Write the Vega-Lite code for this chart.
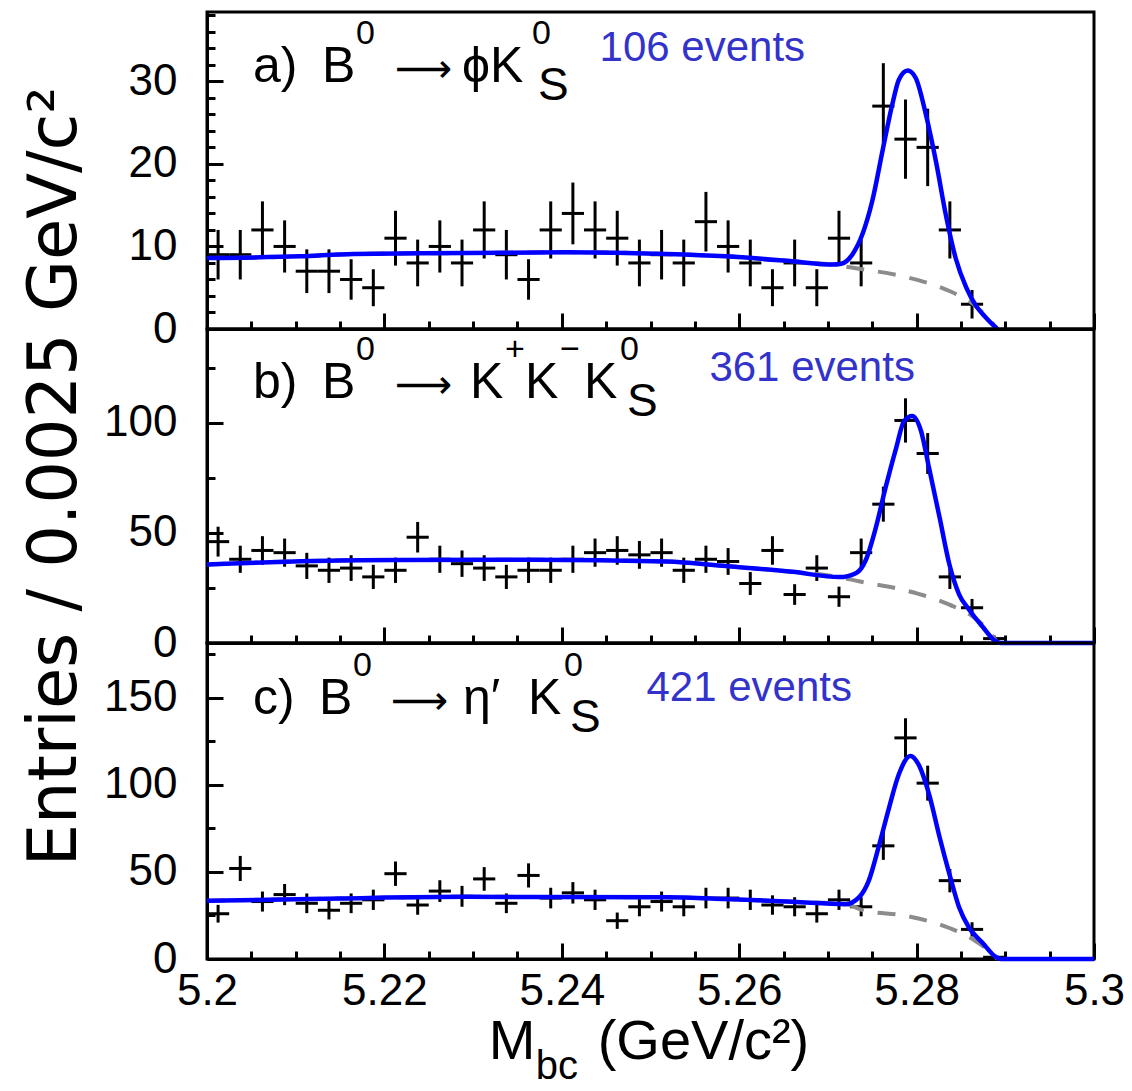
{
"$schema": "https://vega.github.io/schema/vega-lite/v6.json",
"padding": {"left": 19, "top": 10, "right": 5, "bottom": 0},
"spacing": 0,
"bounds": "flush",
"config": {
  "font": "Liberation Sans",
  "view": {"stroke": "black", "strokeWidth": 3},
  "axis": {"grid": false, "domainColor": "black", "domainWidth": 3, "tickColor": "black", "tickWidth": 3, "labelColor": "black", "labelFont": "Liberation Sans", "labelFontSize": 44, "titleFont": "Liberation Sans", "titleFontWeight": "normal", "titleColor": "black", "labelFlush": false, "labelOverlap": false, "labelBound": false, "tickCount": 100},
  "text": {"font": "Liberation Sans, DejaVu Sans", "color": "black", "align": "left", "baseline": "alphabetic"}
},
"datasets": {
"pts": [
{"p":"a","m0":5.2,"m1":5.2025,"m":5.20125,"n":9,"lo":6,"hi":12},
{"p":"a","m0":5.2025,"m1":5.205,"m":5.20375,"n":9,"lo":6,"hi":12},
{"p":"a","m0":5.205,"m1":5.2075,"m":5.20625,"n":12,"lo":8.54,"hi":15.46},
{"p":"a","m0":5.2075,"m1":5.21,"m":5.20875,"n":10,"lo":6.84,"hi":13.16},
{"p":"a","m0":5.21,"m1":5.2125,"m":5.21125,"n":7,"lo":4.35,"hi":9.65},
{"p":"a","m0":5.2125,"m1":5.215,"m":5.21375,"n":7,"lo":4.35,"hi":9.65},
{"p":"a","m0":5.215,"m1":5.2175,"m":5.21625,"n":6,"lo":3.55,"hi":8.45},
{"p":"a","m0":5.2175,"m1":5.22,"m":5.21875,"n":5,"lo":2.76,"hi":7.24},
{"p":"a","m0":5.22,"m1":5.2225,"m":5.22125,"n":11,"lo":7.68,"hi":14.32},
{"p":"a","m0":5.2225,"m1":5.225,"m":5.22375,"n":8,"lo":5.17,"hi":10.83},
{"p":"a","m0":5.225,"m1":5.2275,"m":5.22625,"n":10,"lo":6.84,"hi":13.16},
{"p":"a","m0":5.2275,"m1":5.23,"m":5.22875,"n":8,"lo":5.17,"hi":10.83},
{"p":"a","m0":5.23,"m1":5.2325,"m":5.23125,"n":12,"lo":8.54,"hi":15.46},
{"p":"a","m0":5.2325,"m1":5.235,"m":5.23375,"n":9,"lo":6,"hi":12},
{"p":"a","m0":5.235,"m1":5.2375,"m":5.23625,"n":6,"lo":3.55,"hi":8.45},
{"p":"a","m0":5.2375,"m1":5.24,"m":5.23875,"n":12,"lo":8.54,"hi":15.46},
{"p":"a","m0":5.24,"m1":5.2425,"m":5.24125,"n":14,"lo":10.26,"hi":17.74},
{"p":"a","m0":5.2425,"m1":5.245,"m":5.24375,"n":12,"lo":8.54,"hi":15.46},
{"p":"a","m0":5.245,"m1":5.2475,"m":5.24625,"n":11,"lo":7.68,"hi":14.32},
{"p":"a","m0":5.2475,"m1":5.25,"m":5.24875,"n":8,"lo":5.17,"hi":10.83},
{"p":"a","m0":5.25,"m1":5.2525,"m":5.25125,"n":9,"lo":6,"hi":12},
{"p":"a","m0":5.2525,"m1":5.255,"m":5.25375,"n":8,"lo":5.17,"hi":10.83},
{"p":"a","m0":5.255,"m1":5.2575,"m":5.25625,"n":13,"lo":9.39,"hi":16.61},
{"p":"a","m0":5.2575,"m1":5.26,"m":5.25875,"n":10,"lo":6.84,"hi":13.16},
{"p":"a","m0":5.26,"m1":5.2625,"m":5.26125,"n":8,"lo":5.17,"hi":10.83},
{"p":"a","m0":5.2625,"m1":5.265,"m":5.26375,"n":5,"lo":2.76,"hi":7.24},
{"p":"a","m0":5.265,"m1":5.2675,"m":5.26625,"n":8,"lo":5.17,"hi":10.83},
{"p":"a","m0":5.2675,"m1":5.27,"m":5.26875,"n":5,"lo":2.76,"hi":7.24},
{"p":"a","m0":5.27,"m1":5.2725,"m":5.27125,"n":11,"lo":7.68,"hi":14.32},
{"p":"a","m0":5.2725,"m1":5.275,"m":5.27375,"n":8,"lo":5.17,"hi":10.83},
{"p":"a","m0":5.275,"m1":5.2775,"m":5.27625,"n":27,"lo":21.8,"hi":32.2},
{"p":"a","m0":5.2775,"m1":5.28,"m":5.27875,"n":23,"lo":18.2,"hi":27.8},
{"p":"a","m0":5.28,"m1":5.2825,"m":5.28125,"n":22,"lo":17.31,"hi":26.69},
{"p":"a","m0":5.2825,"m1":5.285,"m":5.28375,"n":12,"lo":8.54,"hi":15.46},
{"p":"a","m0":5.285,"m1":5.2875,"m":5.28625,"n":3,"lo":1.27,"hi":4.73},
{"p":"b","m0":5.2,"m1":5.2025,"m":5.20125,"n":46,"lo":39.22,"hi":52.78},
{"p":"b","m0":5.2025,"m1":5.205,"m":5.20375,"n":38,"lo":31.84,"hi":44.16},
{"p":"b","m0":5.205,"m1":5.2075,"m":5.20625,"n":42,"lo":35.52,"hi":48.48},
{"p":"b","m0":5.2075,"m1":5.21,"m":5.20875,"n":41,"lo":34.6,"hi":47.4},
{"p":"b","m0":5.21,"m1":5.2125,"m":5.21125,"n":35,"lo":29.08,"hi":40.92},
{"p":"b","m0":5.2125,"m1":5.215,"m":5.21375,"n":33,"lo":27.26,"hi":38.74},
{"p":"b","m0":5.215,"m1":5.2175,"m":5.21625,"n":34,"lo":28.17,"hi":39.83},
{"p":"b","m0":5.2175,"m1":5.22,"m":5.21875,"n":30,"lo":24.52,"hi":35.48},
{"p":"b","m0":5.22,"m1":5.2225,"m":5.22125,"n":33,"lo":27.26,"hi":38.74},
{"p":"b","m0":5.2225,"m1":5.225,"m":5.22375,"n":48,"lo":41.07,"hi":54.93},
{"p":"b","m0":5.225,"m1":5.2275,"m":5.22625,"n":38,"lo":31.84,"hi":44.16},
{"p":"b","m0":5.2275,"m1":5.23,"m":5.22875,"n":36,"lo":30,"hi":42},
{"p":"b","m0":5.23,"m1":5.2325,"m":5.23125,"n":34,"lo":28.17,"hi":39.83},
{"p":"b","m0":5.2325,"m1":5.235,"m":5.23375,"n":30,"lo":24.52,"hi":35.48},
{"p":"b","m0":5.235,"m1":5.2375,"m":5.23625,"n":33,"lo":27.26,"hi":38.74},
{"p":"b","m0":5.2375,"m1":5.24,"m":5.23875,"n":33,"lo":27.26,"hi":38.74},
{"p":"b","m0":5.24,"m1":5.2425,"m":5.24125,"n":38,"lo":31.84,"hi":44.16},
{"p":"b","m0":5.2425,"m1":5.245,"m":5.24375,"n":41,"lo":34.6,"hi":47.4},
{"p":"b","m0":5.245,"m1":5.2475,"m":5.24625,"n":42,"lo":35.52,"hi":48.48},
{"p":"b","m0":5.2475,"m1":5.25,"m":5.24875,"n":40,"lo":33.68,"hi":46.32},
{"p":"b","m0":5.25,"m1":5.2525,"m":5.25125,"n":41,"lo":34.6,"hi":47.4},
{"p":"b","m0":5.2525,"m1":5.255,"m":5.25375,"n":33,"lo":27.26,"hi":38.74},
{"p":"b","m0":5.255,"m1":5.2575,"m":5.25625,"n":38,"lo":31.84,"hi":44.16},
{"p":"b","m0":5.2575,"m1":5.26,"m":5.25875,"n":37,"lo":30.92,"hi":43.08},
{"p":"b","m0":5.26,"m1":5.2625,"m":5.26125,"n":27,"lo":21.8,"hi":32.2},
{"p":"b","m0":5.2625,"m1":5.265,"m":5.26375,"n":42,"lo":35.52,"hi":48.48},
{"p":"b","m0":5.265,"m1":5.2675,"m":5.26625,"n":22,"lo":17.31,"hi":26.69},
{"p":"b","m0":5.2675,"m1":5.27,"m":5.26875,"n":34,"lo":28.17,"hi":39.83},
{"p":"b","m0":5.27,"m1":5.2725,"m":5.27125,"n":21,"lo":16.42,"hi":25.58},
{"p":"b","m0":5.2725,"m1":5.275,"m":5.27375,"n":41,"lo":34.6,"hi":47.4},
{"p":"b","m0":5.275,"m1":5.2775,"m":5.27625,"n":63,"lo":55.06,"hi":70.94},
{"p":"b","m0":5.2775,"m1":5.28,"m":5.27875,"n":101,"lo":90.95,"hi":111.05},
{"p":"b","m0":5.28,"m1":5.2825,"m":5.28125,"n":86,"lo":76.73,"hi":95.27},
{"p":"b","m0":5.2825,"m1":5.285,"m":5.28375,"n":30,"lo":24.52,"hi":35.48},
{"p":"b","m0":5.285,"m1":5.2875,"m":5.28625,"n":16,"lo":12,"hi":20},
{"p":"b","m0":5.2875,"m1":5.29,"m":5.28875,"n":2,"lo":0.59,"hi":3.41},
{"p":"c","m0":5.2,"m1":5.2025,"m":5.20125,"n":26,"lo":20.9,"hi":31.1},
{"p":"c","m0":5.2025,"m1":5.205,"m":5.20375,"n":52,"lo":44.79,"hi":59.21},
{"p":"c","m0":5.205,"m1":5.2075,"m":5.20625,"n":33,"lo":27.26,"hi":38.74},
{"p":"c","m0":5.2075,"m1":5.21,"m":5.20875,"n":37,"lo":30.92,"hi":43.08},
{"p":"c","m0":5.21,"m1":5.2125,"m":5.21125,"n":32,"lo":26.34,"hi":37.66},
{"p":"c","m0":5.2125,"m1":5.215,"m":5.21375,"n":28,"lo":22.71,"hi":33.29},
{"p":"c","m0":5.215,"m1":5.2175,"m":5.21625,"n":32,"lo":26.34,"hi":37.66},
{"p":"c","m0":5.2175,"m1":5.22,"m":5.21875,"n":34,"lo":28.17,"hi":39.83},
{"p":"c","m0":5.22,"m1":5.2225,"m":5.22125,"n":49,"lo":42,"hi":56},
{"p":"c","m0":5.2225,"m1":5.225,"m":5.22375,"n":31,"lo":25.43,"hi":36.57},
{"p":"c","m0":5.225,"m1":5.2275,"m":5.22625,"n":39,"lo":32.76,"hi":45.24},
{"p":"c","m0":5.2275,"m1":5.23,"m":5.22875,"n":36,"lo":30,"hi":42},
{"p":"c","m0":5.23,"m1":5.2325,"m":5.23125,"n":46,"lo":39.22,"hi":52.78},
{"p":"c","m0":5.2325,"m1":5.235,"m":5.23375,"n":32,"lo":26.34,"hi":37.66},
{"p":"c","m0":5.235,"m1":5.2375,"m":5.23625,"n":48,"lo":41.07,"hi":54.93},
{"p":"c","m0":5.2375,"m1":5.24,"m":5.23875,"n":35,"lo":29.08,"hi":40.92},
{"p":"c","m0":5.24,"m1":5.2425,"m":5.24125,"n":38,"lo":31.84,"hi":44.16},
{"p":"c","m0":5.2425,"m1":5.245,"m":5.24375,"n":34,"lo":28.17,"hi":39.83},
{"p":"c","m0":5.245,"m1":5.2475,"m":5.24625,"n":22,"lo":17.31,"hi":26.69},
{"p":"c","m0":5.2475,"m1":5.25,"m":5.24875,"n":30,"lo":24.52,"hi":35.48},
{"p":"c","m0":5.25,"m1":5.2525,"m":5.25125,"n":33,"lo":27.26,"hi":38.74},
{"p":"c","m0":5.2525,"m1":5.255,"m":5.25375,"n":30,"lo":24.52,"hi":35.48},
{"p":"c","m0":5.255,"m1":5.2575,"m":5.25625,"n":35,"lo":29.08,"hi":40.92},
{"p":"c","m0":5.2575,"m1":5.26,"m":5.25875,"n":35,"lo":29.08,"hi":40.92},
{"p":"c","m0":5.26,"m1":5.2625,"m":5.26125,"n":34,"lo":28.17,"hi":39.83},
{"p":"c","m0":5.2625,"m1":5.265,"m":5.26375,"n":31,"lo":25.43,"hi":36.57},
{"p":"c","m0":5.265,"m1":5.2675,"m":5.26625,"n":30,"lo":24.52,"hi":35.48},
{"p":"c","m0":5.2675,"m1":5.27,"m":5.26875,"n":26,"lo":20.9,"hi":31.1},
{"p":"c","m0":5.27,"m1":5.2725,"m":5.27125,"n":34,"lo":28.17,"hi":39.83},
{"p":"c","m0":5.2725,"m1":5.275,"m":5.27375,"n":30,"lo":24.52,"hi":35.48},
{"p":"c","m0":5.275,"m1":5.2775,"m":5.27625,"n":65,"lo":56.94,"hi":73.06},
{"p":"c","m0":5.2775,"m1":5.28,"m":5.27875,"n":127,"lo":115.73,"hi":138.27},
{"p":"c","m0":5.28,"m1":5.2825,"m":5.28125,"n":101,"lo":90.95,"hi":111.05},
{"p":"c","m0":5.2825,"m1":5.285,"m":5.28375,"n":45,"lo":38.29,"hi":51.71},
{"p":"c","m0":5.285,"m1":5.2875,"m":5.28625,"n":17,"lo":12.88,"hi":21.12},
{"p":"c","m0":5.2875,"m1":5.29,"m":5.28875,"n":1,"lo":0,"hi":2}
],
"fit": [
{"p":"a","m":5.2,"v":8.6},{"p":"a","m":5.2105,"v":8.8},{"p":"a","m":5.2165,"v":9.1},{"p":"a","m":5.2292,"v":9.2},{"p":"a","m":5.2405,"v":9.3},{"p":"a","m":5.2518,"v":9.1},{"p":"a","m":5.2585,"v":8.8},{"p":"a","m":5.266,"v":8.2},{"p":"a","m":5.2705,"v":7.8},{"p":"a","m":5.2715,"v":7.9},{"p":"a","m":5.2728,"v":9.1},{"p":"a","m":5.2739,"v":11.5},{"p":"a","m":5.275,"v":15.5},{"p":"a","m":5.2762,"v":21.8},{"p":"a","m":5.2773,"v":27.4},{"p":"a","m":5.278,"v":30.2},{"p":"a","m":5.279,"v":31.3},{"p":"a","m":5.2799,"v":30.4},{"p":"a","m":5.281,"v":26.2},{"p":"a","m":5.2822,"v":20.2},{"p":"a","m":5.2833,"v":13.8},{"p":"a","m":5.2844,"v":8.6},{"p":"a","m":5.2856,"v":5.0},{"p":"a","m":5.2867,"v":2.8},{"p":"a","m":5.2878,"v":1.4},{"p":"a","m":5.2891,"v":0},
{"p":"b","m":5.2,"v":35.6},{"p":"b","m":5.2173,"v":37.6},{"p":"b","m":5.2367,"v":37.8},{"p":"b","m":5.2518,"v":37.0},{"p":"b","m":5.2585,"v":34.9},{"p":"b","m":5.266,"v":32.3},{"p":"b","m":5.2713,"v":29.9},{"p":"b","m":5.2732,"v":31.8},{"p":"b","m":5.2743,"v":37.9},{"p":"b","m":5.2754,"v":52.3},{"p":"b","m":5.2765,"v":70.5},{"p":"b","m":5.2777,"v":88.6},{"p":"b","m":5.2786,"v":100.8},{"p":"b","m":5.2795,"v":103},{"p":"b","m":5.2805,"v":96.2},{"p":"b","m":5.2814,"v":79.5},{"p":"b","m":5.2826,"v":56.8},{"p":"b","m":5.2837,"v":35.6},{"p":"b","m":5.2848,"v":22},{"p":"b","m":5.2859,"v":15.2},{"p":"b","m":5.2874,"v":7.6},{"p":"b","m":5.2889,"v":0.8},{"p":"b","m":5.2895,"v":0},{"p":"b","m":5.3,"v":0},
{"p":"c","m":5.2,"v":33.4},{"p":"c","m":5.215,"v":34.8},{"p":"c","m":5.2292,"v":35.7},{"p":"c","m":5.2518,"v":35.4},{"p":"c","m":5.2585,"v":34.4},{"p":"c","m":5.266,"v":32.9},{"p":"c","m":5.272,"v":31.5},{"p":"c","m":5.2735,"v":35.4},{"p":"c","m":5.2746,"v":44.9},{"p":"c","m":5.2757,"v":64},{"p":"c","m":5.2769,"v":87},{"p":"c","m":5.278,"v":106.1},{"p":"c","m":5.2793,"v":116.6},{"p":"c","m":5.2802,"v":111.9},{"p":"c","m":5.2814,"v":94.7},{"p":"c","m":5.2826,"v":69.8},{"p":"c","m":5.2837,"v":48.8},{"p":"c","m":5.2848,"v":29.6},{"p":"c","m":5.2859,"v":18.1},{"p":"c","m":5.2874,"v":9.5},{"p":"c","m":5.2889,"v":1.3},{"p":"c","m":5.2895,"v":0},{"p":"c","m":5.3,"v":0}
],
"bkg": [
{"p":"a","m":5.2,"v":8.6},{"p":"a","m":5.2105,"v":8.8},{"p":"a","m":5.2165,"v":9.1},{"p":"a","m":5.2292,"v":9.2},{"p":"a","m":5.2405,"v":9.3},{"p":"a","m":5.2518,"v":9.1},{"p":"a","m":5.2585,"v":8.8},{"p":"a","m":5.266,"v":8.2},{"p":"a","m":5.2705,"v":7.8},{"p":"a","m":5.2735,"v":7.3},{"p":"a","m":5.2788,"v":6.3},{"p":"a","m":5.2837,"v":4.6},{"p":"a","m":5.2863,"v":3.1},{"p":"a","m":5.2878,"v":1.6},{"p":"a","m":5.2891,"v":0},
{"p":"b","m":5.2,"v":35.6},{"p":"b","m":5.2173,"v":37.6},{"p":"b","m":5.2367,"v":37.8},{"p":"b","m":5.2518,"v":37.0},{"p":"b","m":5.2585,"v":34.9},{"p":"b","m":5.266,"v":32.3},{"p":"b","m":5.2713,"v":29.9},{"p":"b","m":5.2735,"v":28},{"p":"b","m":5.2788,"v":23.8},{"p":"b","m":5.2837,"v":17.4},{"p":"b","m":5.2863,"v":12.1},{"p":"b","m":5.288,"v":6},{"p":"b","m":5.2891,"v":0},
{"p":"c","m":5.2,"v":33.4},{"p":"c","m":5.215,"v":34.8},{"p":"c","m":5.2292,"v":35.7},{"p":"c","m":5.2518,"v":35.4},{"p":"c","m":5.2585,"v":34.4},{"p":"c","m":5.266,"v":32.9},{"p":"c","m":5.272,"v":31.5},{"p":"c","m":5.2739,"v":28.1},{"p":"c","m":5.2788,"v":24.8},{"p":"c","m":5.2837,"v":17.8},{"p":"c","m":5.2863,"v":11.5},{"p":"c","m":5.2885,"v":3},{"p":"c","m":5.2891,"v":0}
]
},
"vconcat": [
{
"width": 887, "height": 317,
"layer": [
{"data": {"name": "pts"}, "transform": [{"filter": {"field": "p", "equal": "a"}}],
 "mark": {"type": "rule", "color": "black", "strokeWidth": 3},
 "encoding": {
  "x": {"field": "m", "type": "quantitative", "scale": {"domain": [5.2, 5.3], "nice": false, "zero": false},
        "axis": {"title": null, "labels": false, "values": [5.2,5.205,5.21,5.215,5.22,5.225,5.23,5.235,5.24,5.245,5.25,5.255,5.26,5.265,5.27,5.275,5.28,5.285,5.29,5.295,5.3],
                 "tickSize": {"condition": {"test": "abs(datum.value*50-round(datum.value*50))<0.01", "value": -16}, "value": -8}}},
  "y": {"field": "lo", "type": "quantitative", "scale": {"domain": [0, 38.4], "nice": false},
        "axis": {"title": null, "format": "d", "values": [0,2,4,6,8,10,12,14,16,18,20,22,24,26,28,30,32,34,36,38],
                 "labelExpr": "datum.value % 10 === 0 ? datum.label : ''", "labelPadding": 46,
                 "labelFontSize": {"condition": {"test": "datum.value % 10 === 0", "value": 44}, "value": 1},
                 "tickSize": {"condition": {"test": "datum.value % 10 === 0", "value": -16}, "value": -8}}},
  "y2": {"field": "hi"}
 }},
{"data": {"name": "pts"}, "transform": [{"filter": {"field": "p", "equal": "a"}}],
 "mark": {"type": "rule", "color": "black", "strokeWidth": 3},
 "encoding": {"x": {"field": "m0", "type": "quantitative"}, "x2": {"field": "m1"}, "y": {"field": "n", "type": "quantitative"}}},
{"data": {"name": "bkg"}, "transform": [{"filter": {"field": "p", "equal": "a"}}],
 "mark": {"type": "line", "color": "#8c8c8c", "strokeWidth": 4, "strokeDash": [18, 14], "interpolate": "monotone"},
 "encoding": {"x": {"field": "m", "type": "quantitative"}, "y": {"field": "v", "type": "quantitative"}}},
{"data": {"name": "fit"}, "transform": [{"filter": {"field": "p", "equal": "a"}}],
 "mark": {"type": "line", "color": "#0000ff", "strokeWidth": 4.5, "interpolate": "monotone"},
 "encoding": {"x": {"field": "m", "type": "quantitative"}, "y": {"field": "v", "type": "quantitative"}}},
{"data": {"values": [{}]}, "mark": {"type": "text", "text": "a)", "fontSize": 50}, "encoding": {"x": {"datum": 5.20518, "type": "quantitative"}, "y": {"datum": 29.9, "type": "quantitative"}}},
{"data": {"values": [{}]}, "mark": {"type": "text", "text": "B", "fontSize": 50, "dx": 69}, "encoding": {"x": {"datum": 5.20518, "type": "quantitative"}, "y": {"datum": 29.9, "type": "quantitative"}}},
{"data": {"values": [{}]}, "mark": {"type": "text", "text": "0", "fontSize": 34, "dx": 103, "dy": -38}, "encoding": {"x": {"datum": 5.20518, "type": "quantitative"}, "y": {"datum": 29.9, "type": "quantitative"}}},
{"data": {"values": [{}]}, "mark": {"type": "text", "text": "⟶", "font": "DejaVu Sans", "fontSize": 40, "dx": 142}, "encoding": {"x": {"datum": 5.20518, "type": "quantitative"}, "y": {"datum": 29.9, "type": "quantitative"}}},
{"data": {"values": [{}]}, "mark": {"type": "text", "text": "ϕK", "fontSize": 50, "dx": 209}, "encoding": {"x": {"datum": 5.20518, "type": "quantitative"}, "y": {"datum": 29.9, "type": "quantitative"}}},
{"data": {"values": [{}]}, "mark": {"type": "text", "text": "0", "fontSize": 34, "dx": 279, "dy": -38}, "encoding": {"x": {"datum": 5.20518, "type": "quantitative"}, "y": {"datum": 29.9, "type": "quantitative"}}},
{"data": {"values": [{}]}, "mark": {"type": "text", "text": "S", "fontSize": 46, "dx": 285, "dy": 18}, "encoding": {"x": {"datum": 5.20518, "type": "quantitative"}, "y": {"datum": 29.9, "type": "quantitative"}}},
{"data": {"values": [{}]}, "mark": {"type": "text", "text": "106 events", "fontSize": 42, "color": "#3333cc"}, "encoding": {"x": {"datum": 5.24426, "type": "quantitative"}, "y": {"datum": 32.5, "type": "quantitative"}}}
]
},
{
"width": 887, "height": 314,
"layer": [
{"data": {"name": "pts"}, "transform": [{"filter": {"field": "p", "equal": "b"}}],
 "mark": {"type": "rule", "color": "black", "strokeWidth": 3},
 "encoding": {
  "x": {"field": "m", "type": "quantitative", "scale": {"domain": [5.2, 5.3], "nice": false, "zero": false},
        "axis": {"title": null, "labels": false, "values": [5.2,5.205,5.21,5.215,5.22,5.225,5.23,5.235,5.24,5.245,5.25,5.255,5.26,5.265,5.27,5.275,5.28,5.285,5.29,5.295,5.3],
                 "tickSize": {"condition": {"test": "abs(datum.value*50-round(datum.value*50))<0.01", "value": -16}, "value": -8}}},
  "y": {"field": "lo", "type": "quantitative", "scale": {"domain": [0, 142.5], "nice": false},
        "axis": {"title": "Entries / 0.0025 GeV/c²", "titleFont": "DejaVu Sans", "titleFontSize": 67, "titleX": -132, "titleY": 147, "titleBaseline": "alphabetic", "titleLimit": 2000,
                 "format": "d", "values": [0,25,50,75,100,125],
                 "labelExpr": "datum.value % 50 === 0 ? datum.label : ''", "labelPadding": 46,
                 "labelFontSize": {"condition": {"test": "datum.value % 50 === 0", "value": 44}, "value": 1},
                 "tickSize": {"condition": {"test": "datum.value % 50 === 0", "value": -16}, "value": -8}}},
  "y2": {"field": "hi"}
 }},
{"data": {"name": "pts"}, "transform": [{"filter": {"field": "p", "equal": "b"}}],
 "mark": {"type": "rule", "color": "black", "strokeWidth": 3},
 "encoding": {"x": {"field": "m0", "type": "quantitative"}, "x2": {"field": "m1"}, "y": {"field": "n", "type": "quantitative"}}},
{"data": {"name": "bkg"}, "transform": [{"filter": {"field": "p", "equal": "b"}}],
 "mark": {"type": "line", "color": "#8c8c8c", "strokeWidth": 4, "strokeDash": [18, 14], "interpolate": "monotone"},
 "encoding": {"x": {"field": "m", "type": "quantitative"}, "y": {"field": "v", "type": "quantitative"}}},
{"data": {"name": "fit"}, "transform": [{"filter": {"field": "p", "equal": "b"}}],
 "mark": {"type": "line", "color": "#0000ff", "strokeWidth": 4.5, "interpolate": "monotone"},
 "encoding": {"x": {"field": "m", "type": "quantitative"}, "y": {"field": "v", "type": "quantitative"}}},
{"data": {"values": [{}]}, "mark": {"type": "text", "text": "b)", "fontSize": 50}, "encoding": {"x": {"datum": 5.20518, "type": "quantitative"}, "y": {"datum": 111.2, "type": "quantitative"}}},
{"data": {"values": [{}]}, "mark": {"type": "text", "text": "B", "fontSize": 50, "dx": 69}, "encoding": {"x": {"datum": 5.20518, "type": "quantitative"}, "y": {"datum": 111.2, "type": "quantitative"}}},
{"data": {"values": [{}]}, "mark": {"type": "text", "text": "0", "fontSize": 34, "dx": 103, "dy": -38}, "encoding": {"x": {"datum": 5.20518, "type": "quantitative"}, "y": {"datum": 111.2, "type": "quantitative"}}},
{"data": {"values": [{}]}, "mark": {"type": "text", "text": "⟶", "font": "DejaVu Sans", "fontSize": 40, "dx": 142}, "encoding": {"x": {"datum": 5.20518, "type": "quantitative"}, "y": {"datum": 111.2, "type": "quantitative"}}},
{"data": {"values": [{}]}, "mark": {"type": "text", "text": "K", "fontSize": 50, "dx": 217}, "encoding": {"x": {"datum": 5.20518, "type": "quantitative"}, "y": {"datum": 111.2, "type": "quantitative"}}},
{"data": {"values": [{}]}, "mark": {"type": "text", "text": "+", "fontSize": 34, "dx": 252, "dy": -38}, "encoding": {"x": {"datum": 5.20518, "type": "quantitative"}, "y": {"datum": 111.2, "type": "quantitative"}}},
{"data": {"values": [{}]}, "mark": {"type": "text", "text": "K", "fontSize": 50, "dx": 272}, "encoding": {"x": {"datum": 5.20518, "type": "quantitative"}, "y": {"datum": 111.2, "type": "quantitative"}}},
{"data": {"values": [{}]}, "mark": {"type": "text", "text": "−", "fontSize": 34, "dx": 307, "dy": -38}, "encoding": {"x": {"datum": 5.20518, "type": "quantitative"}, "y": {"datum": 111.2, "type": "quantitative"}}},
{"data": {"values": [{}]}, "mark": {"type": "text", "text": "K", "fontSize": 50, "dx": 331}, "encoding": {"x": {"datum": 5.20518, "type": "quantitative"}, "y": {"datum": 111.2, "type": "quantitative"}}},
{"data": {"values": [{}]}, "mark": {"type": "text", "text": "0", "fontSize": 34, "dx": 367, "dy": -38}, "encoding": {"x": {"datum": 5.20518, "type": "quantitative"}, "y": {"datum": 111.2, "type": "quantitative"}}},
{"data": {"values": [{}]}, "mark": {"type": "text", "text": "S", "fontSize": 46, "dx": 374, "dy": 18}, "encoding": {"x": {"datum": 5.20518, "type": "quantitative"}, "y": {"datum": 111.2, "type": "quantitative"}}},
{"data": {"values": [{}]}, "mark": {"type": "text", "text": "361 events", "fontSize": 42, "color": "#3333cc"}, "encoding": {"x": {"datum": 5.25664, "type": "quantitative"}, "y": {"datum": 118.9, "type": "quantitative"}}}
]
},
{
"width": 887, "height": 316,
"layer": [
{"data": {"name": "pts"}, "transform": [{"filter": {"field": "p", "equal": "c"}}],
 "mark": {"type": "rule", "color": "black", "strokeWidth": 3},
 "encoding": {
  "x": {"field": "m", "type": "quantitative", "scale": {"domain": [5.2, 5.3], "nice": false, "zero": false},
        "axis": {"title": null, "format": ".2~f", "labelPadding": 26, "values": [5.2,5.205,5.21,5.215,5.22,5.225,5.23,5.235,5.24,5.245,5.25,5.255,5.26,5.265,5.27,5.275,5.28,5.285,5.29,5.295,5.3],
                 "labelExpr": "abs(datum.value*50-round(datum.value*50))<0.01 ? datum.label : ''",
                 "tickSize": {"condition": {"test": "abs(datum.value*50-round(datum.value*50))<0.01", "value": -16}, "value": -8}}},
  "y": {"field": "lo", "type": "quantitative", "scale": {"domain": [0, 181.5], "nice": false},
        "axis": {"title": null, "format": "d", "values": [0,25,50,75,100,125,150,175],
                 "labelExpr": "datum.value % 50 === 0 ? datum.label : ''", "labelPadding": 46,
                 "labelFontSize": {"condition": {"test": "datum.value % 50 === 0", "value": 44}, "value": 1},
                 "tickSize": {"condition": {"test": "datum.value % 50 === 0", "value": -16}, "value": -8}}},
  "y2": {"field": "hi"}
 }},
{"data": {"name": "pts"}, "transform": [{"filter": {"field": "p", "equal": "c"}}],
 "mark": {"type": "rule", "color": "black", "strokeWidth": 3},
 "encoding": {"x": {"field": "m0", "type": "quantitative"}, "x2": {"field": "m1"}, "y": {"field": "n", "type": "quantitative"}}},
{"data": {"name": "bkg"}, "transform": [{"filter": {"field": "p", "equal": "c"}}],
 "mark": {"type": "line", "color": "#8c8c8c", "strokeWidth": 4, "strokeDash": [18, 14], "interpolate": "monotone"},
 "encoding": {"x": {"field": "m", "type": "quantitative"}, "y": {"field": "v", "type": "quantitative"}}},
{"data": {"name": "fit"}, "transform": [{"filter": {"field": "p", "equal": "c"}}],
 "mark": {"type": "line", "color": "#0000ff", "strokeWidth": 4.5, "interpolate": "monotone"},
 "encoding": {"x": {"field": "m", "type": "quantitative"}, "y": {"field": "v", "type": "quantitative"}}},
{"data": {"values": [{}]}, "mark": {"type": "text", "text": "c)", "fontSize": 50}, "encoding": {"x": {"datum": 5.20518, "type": "quantitative"}, "y": {"datum": 140.7, "type": "quantitative"}}},
{"data": {"values": [{}]}, "mark": {"type": "text", "text": "B", "fontSize": 50, "dx": 66}, "encoding": {"x": {"datum": 5.20518, "type": "quantitative"}, "y": {"datum": 140.7, "type": "quantitative"}}},
{"data": {"values": [{}]}, "mark": {"type": "text", "text": "0", "fontSize": 34, "dx": 100, "dy": -38}, "encoding": {"x": {"datum": 5.20518, "type": "quantitative"}, "y": {"datum": 140.7, "type": "quantitative"}}},
{"data": {"values": [{}]}, "mark": {"type": "text", "text": "⟶", "font": "DejaVu Sans", "fontSize": 40, "dx": 138}, "encoding": {"x": {"datum": 5.20518, "type": "quantitative"}, "y": {"datum": 140.7, "type": "quantitative"}}},
{"data": {"values": [{}]}, "mark": {"type": "text", "text": "η′", "fontSize": 50, "dx": 210}, "encoding": {"x": {"datum": 5.20518, "type": "quantitative"}, "y": {"datum": 140.7, "type": "quantitative"}}},
{"data": {"values": [{}]}, "mark": {"type": "text", "text": "K", "fontSize": 50, "dx": 275}, "encoding": {"x": {"datum": 5.20518, "type": "quantitative"}, "y": {"datum": 140.7, "type": "quantitative"}}},
{"data": {"values": [{}]}, "mark": {"type": "text", "text": "0", "fontSize": 34, "dx": 311, "dy": -38}, "encoding": {"x": {"datum": 5.20518, "type": "quantitative"}, "y": {"datum": 140.7, "type": "quantitative"}}},
{"data": {"values": [{}]}, "mark": {"type": "text", "text": "S", "fontSize": 46, "dx": 317, "dy": 18}, "encoding": {"x": {"datum": 5.20518, "type": "quantitative"}, "y": {"datum": 140.7, "type": "quantitative"}}},
{"data": {"values": [{}]}, "mark": {"type": "text", "text": "421 events", "fontSize": 42, "color": "#3333cc"}, "encoding": {"x": {"datum": 5.24955, "type": "quantitative"}, "y": {"datum": 148.2, "type": "quantitative"}}},
{"data": {"values": [{}]}, "mark": {"type": "text", "text": "M", "fontSize": 56}, "encoding": {"x": {"datum": 5.23176, "type": "quantitative"}, "y": {"datum": -57.4, "type": "quantitative"}}},
{"data": {"values": [{}]}, "mark": {"type": "text", "text": "bc", "fontSize": 40, "dx": 47, "dy": 20}, "encoding": {"x": {"datum": 5.23176, "type": "quantitative"}, "y": {"datum": -57.4, "type": "quantitative"}}},
{"data": {"values": [{}]}, "mark": {"type": "text", "text": "(GeV/c²)", "fontSize": 56, "dx": 109}, "encoding": {"x": {"datum": 5.23176, "type": "quantitative"}, "y": {"datum": -57.4, "type": "quantitative"}}}
]
}
]
}
